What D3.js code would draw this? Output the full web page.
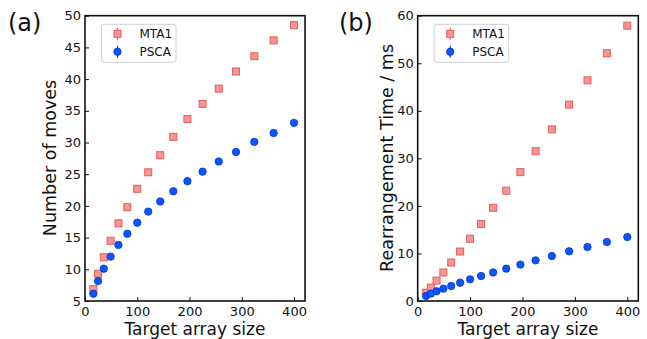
<!DOCTYPE html>
<html lang="en">
<head>
<meta charset="utf-8">
<title>MTA1 vs PSCA</title>
<script src="https://cdn.jsdelivr.net/npm/d3@7"></script>
<style>
  body { margin: 0; background: #fff; }
  svg text { font-family: "DejaVu Sans", sans-serif; fill: #111; }
  .axis path { display: none; }
  .axis line { stroke: #111; stroke-width: 1; }
  .axis text { font-size: 13px; }
</style>
</head>
<body>
<div id="chart"></div>
<script>
// target array sizes (4x4 ... 20x20)
const sizes = [16, 25, 36, 49, 64, 81, 100, 121, 144, 169, 196, 225, 256, 289, 324, 361, 400];

// (a) number of moves
const movesMTA1 = [6.9, 9.3, 11.9, 14.5, 17.25, 19.8, 22.7, 25.3, 28.0, 30.9, 33.7, 36.1, 38.5, 41.2, 43.6, 46.1, 48.5];
const movesPSCA = [6.15, 8.15, 10.1, 12.0, 13.85, 15.6, 17.35, 19.1, 20.7, 22.3, 23.9, 25.4, 27.0, 28.5, 30.1, 31.5, 33.1];

// (b) rearrangement time / ms
const timeMTA1 = [1.75, 2.8, 4.3, 6.0, 8.1, 10.4, 13.1, 16.2, 19.6, 23.2, 27.1, 31.5, 36.1, 41.3, 46.4, 52.1, 57.9];
const timePSCA = [1.05, 1.55, 2.05, 2.6, 3.15, 3.85, 4.55, 5.25, 6.0, 6.8, 7.65, 8.55, 9.45, 10.45, 11.35, 12.4, 13.45];

const xTicks = [0, 100, 200, 300, 400];
const yTicksA = [5, 10, 15, 20, 25, 30, 35, 40, 45, 50];
const yTicksB = [0, 10, 20, 30, 40, 50, 60];

const W = 647, H = 339;
const svg = d3.select('#chart').append('svg')
    .attr('width', W)
    .attr('height', H);

const mtaFill = '#f79494', mtaEdge = '#e85b5b';
const pscaFill = '#0a55ff', pscaEdge = '#0038c8';

function panel(opts) {
    const x = d3.scaleLinear().domain([0, 421]).range([opts.left, opts.right]);
    const y = d3.scaleLinear().domain(opts.ydom).range([301, 15.7]);

    const g = svg.append('g');

    // axes, ticks pointing inward
    g.append('g')
        .attr('class', 'axis')
        .attr('transform', 'translate(0,301)')
        .call(d3.axisBottom(x).tickValues(xTicks).tickSize(-4).tickPadding(5.5));
    g.append('g')
        .attr('class', 'axis')
        .attr('transform', `translate(${opts.left},0)`)
        .call(d3.axisLeft(y).tickValues(opts.yticks).tickSize(-4).tickPadding(4));

    // frame
    g.append('rect')
        .attr('x', opts.left).attr('y', 15.7)
        .attr('width', opts.right - opts.left).attr('height', 301 - 15.7)
        .attr('fill', 'none').attr('stroke', '#111').attr('stroke-width', 1.6);

    // MTA1 squares
    g.append('g').selectAll('rect')
        .data(sizes.map((s, i) => [s, opts.mta[i]]))
        .join('rect')
            .attr('x', d => x(d[0]) - 3.5)
            .attr('y', d => y(d[1]) - 3.5)
            .attr('width', 7).attr('height', 7)
            .attr('fill', mtaFill).attr('stroke', mtaEdge).attr('stroke-width', 1);

    // PSCA circles
    g.append('g').selectAll('circle')
        .data(sizes.map((s, i) => [s, opts.psca[i]]))
        .join('circle')
            .attr('cx', d => x(d[0]))
            .attr('cy', d => y(d[1]))
            .attr('r', 3.7)
            .attr('fill', pscaFill).attr('stroke', pscaEdge).attr('stroke-width', 0.8);

    // legend
    const lx = opts.left + 16.5, ly = 24.3;
    g.append('rect')
        .attr('x', lx).attr('y', ly).attr('width', 74.5).attr('height', 38)
        .attr('rx', 2.5)
        .attr('fill', '#fff').attr('stroke', '#d0d0d0').attr('stroke-width', 1);
    const mx = lx + 16;
    g.append('line')
        .attr('x1', mx).attr('x2', mx).attr('y1', ly + 3.5).attr('y2', ly + 15.5)
        .attr('stroke', mtaEdge).attr('stroke-width', 1.2);
    g.append('rect')
        .attr('x', mx - 3.5).attr('y', ly + 6).attr('width', 7).attr('height', 7)
        .attr('fill', mtaFill).attr('stroke', mtaEdge);
    g.append('line')
        .attr('x1', mx).attr('x2', mx).attr('y1', ly + 21.5).attr('y2', ly + 33.5)
        .attr('stroke', pscaEdge).attr('stroke-width', 1.2);
    g.append('circle')
        .attr('cx', mx).attr('cy', ly + 27.5).attr('r', 3.7)
        .attr('fill', pscaFill).attr('stroke', pscaEdge).attr('stroke-width', 0.8);
    g.append('text').attr('x', lx + 38).attr('y', ly + 14).attr('font-size', 12).text('MTA1');
    g.append('text').attr('x', lx + 38).attr('y', ly + 32).attr('font-size', 12).text('PSCA');

    // axis labels
    g.append('text')
        .attr('x', (opts.left + opts.right) / 2).attr('y', 335)
        .attr('text-anchor', 'middle').attr('font-size', 17)
        .text('Target array size');
    g.append('text')
        .attr('transform', `translate(${opts.ylabelX},158) rotate(-90)`)
        .attr('text-anchor', 'middle').attr('font-size', 17.5)
        .text(opts.ylabel);

    // panel letter
    g.append('text')
        .attr('x', opts.letterX).attr('y', 31)
        .attr('font-size', 24)
        .text(opts.letter);
}

panel({left: 85, right: 305, ydom: [5, 50], yticks: yTicksA,
       mta: movesMTA1, psca: movesPSCA,
       ylabel: 'Number of moves', ylabelX: 56, letter: '(a)', letterX: 8});
panel({left: 417.7, right: 638.3, ydom: [0, 60], yticks: yTicksB,
       mta: timeMTA1, psca: timePSCA,
       ylabel: 'Rearrangement Time / ms', ylabelX: 393, letter: '(b)', letterX: 339});
</script>
</body>
</html>
